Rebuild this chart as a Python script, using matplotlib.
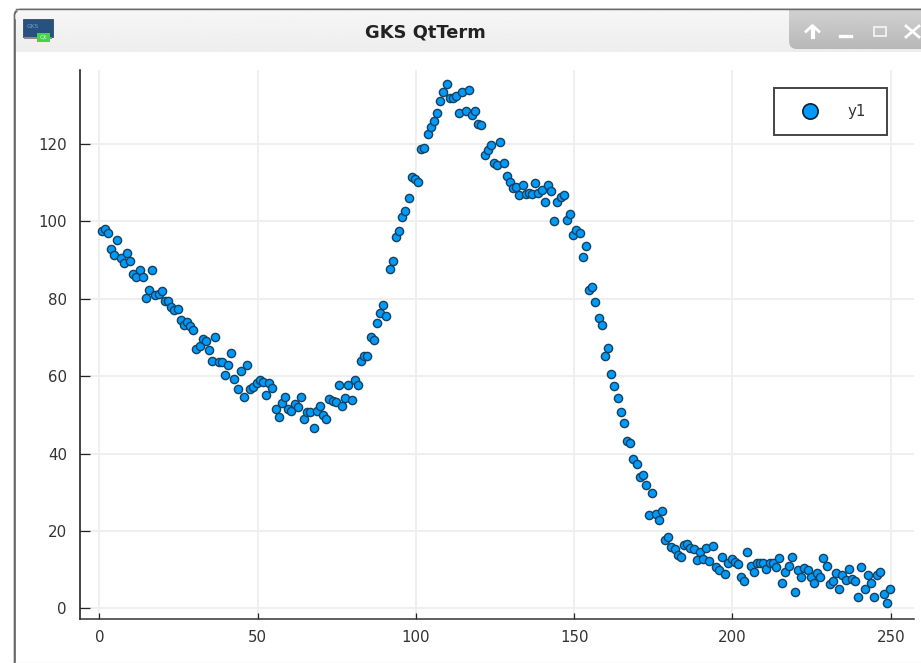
import numpy as np
import matplotlib
matplotlib.use("Agg")
import matplotlib.pyplot as plt
from matplotlib.patches import FancyBboxPatch, Rectangle
from matplotlib.lines import Line2D

W, H = 921, 663

y_part1 = [97.5, 98, 96.9, 92.8, 91.3, 95.1, 90.5, 89.3, 91.7, 89.7,
           86.5, 85.7, 87.4, 85.7, 80.2, 82.2, 87.3, 80.9, 81.2, 81.9,
           79.5, 79.5, 77.9, 77, 77.4, 74.4, 73.1, 74, 72.9, 72,
           67.1, 67.9, 69.6, 69.1, 66.8, 64, 70, 63.7, 63.6, 60.2,
           62.9, 66, 59.3, 56.6, 61.4, 54.6, 62.9, 56.6, 57.1, 58.3]
y_part2 = [58.9, 58.4, 55, 58.1, 57, 51.5, 49.5, 53, 54.6, 51.6,
           51, 52.8, 52, 54.6, 49, 50.6, 50.6, 46.7, 51, 52.2,
           49.9, 49, 54.2, 53.6, 53.4, 57.8, 52.2, 54.4, 57.8, 53.8,
           59, 57.7, 64, 65.2, 65.2, 70.1, 69.3, 73.6, 76.3, 78.4,
           75.6, 87.7, 89.8, 96, 97.6, 101.2, 102.7, 105.9, 111.4, 111]
y_part3 = [110.2, 118.6, 118.9, 122.5, 124.4, 126, 128, 131.1, 133.5, 135.5,
           131.8, 131.8, 132.3, 128, 133.5, 128.4, 133.9, 127.5, 128.4, 125.2,
           124.8, 117.1, 118.4, 119.7, 115, 114.5, 120.5, 115, 111.8, 110.2,
           108.7, 108.9, 106.7, 109.5, 107, 107.2, 107, 109.9, 107.4, 108.2,
           105, 109.5, 107.8, 100, 105, 106.3, 106.7, 100.3, 101.9, 96.4]
y_part4 = [97.7, 97.1, 90.9, 93.7, 82.2, 83, 79.2, 75.1, 73.1, 65.2,
           67.3, 60.6, 57.5, 54.3, 50.6, 48, 43.2, 42.8, 38.5, 37.3,
           34, 34.5, 31.8, 24, 29.8, 24.3, 22.7, 25.2, 17.6, 18.4,
           15.8, 15.2, 13.9, 13.3, 16.4, 16.5, 15.7, 15.2, 12.5, 14.5,
           12.8, 15.7, 12.2, 16.1, 10.6, 9.8, 13.3, 8.9, 11.6, 12.7]
y_part5 = [11.9, 11.4, 8.2, 7, 14.5, 10.9, 9.4, 11.6, 11.7, 11.8,
           10.1, 11.8, 11.8, 10.6, 12.9, 6.6, 9.4, 10.9, 13.3, 4.2,
           9.8, 8.2, 10.4, 9.8, 8.2, 6.6, 9, 8.2, 12.9, 10.9,
           6.2, 7, 9, 5, 8.6, 7.4, 10.2, 7.7, 7, 3,
           10.6, 5, 8.6, 6.6, 3, 8.6, 9.4, 3.8, 1.4, 5]
y_values = y_part1 + y_part2 + y_part3 + y_part4 + y_part5
x_values = np.arange(1, len(y_values) + 1) - 0.3

x_ticks = [0, 50, 100, 150, 200, 250]
y_ticks = [0, 20, 40, 60, 80, 100, 120]
series_label = "y1"
window_title = "GKS QtTerm"

BLUE = "#009AFA"
EDGE = "#15415f"
GRID = "#eeeeee"
TEXT = "#333333"

fig = plt.figure(figsize=(W / 100, H / 100), dpi=100, facecolor="white")

# window chrome, in pixel coordinates
ch = fig.add_axes([0, 0, 1, 1], zorder=0)
ch.set_xlim(0, W)
ch.set_ylim(H, 0)
ch.axis("off")


def gradient(patch, top, bottom, y0, y1):
    ch.add_patch(patch)
    g = np.linspace(top, bottom, 64)[:, None]
    im = ch.imshow(g, cmap="gray", vmin=0, vmax=1, extent=(0, W, y1, y0), aspect="auto",
                   zorder=patch.get_zorder() + 0.1)
    im.set_clip_path(patch)


ch.add_patch(FancyBboxPatch((14.5, 9.5), 1000, 800, boxstyle="round,pad=0,rounding_size=6",
                            fc="white", ec="#6a6a6a", lw=1.2, zorder=1))
bar_clip = Rectangle((15.5, 10.2), 1000, 41.8, fc="#eeeeee", ec="none", zorder=2)
gradient(bar_clip, 0.965, 0.93, 10.2, 52)
ch.plot([14.5, 14.5], [20, H], color="#6a6a6a", lw=1.2, zorder=3)
ch.plot([14.5, 17], [14, 11], color="#6a6a6a", lw=1.0, zorder=3)
ch.plot([16, W], [9.3, 9.3], color="#6a6a6a", lw=1.0, zorder=5)
ch.plot([15, W], [662.5, 662.5], color="#eeeeee", lw=1, zorder=3)
# buttons group
btn = FancyBboxPatch((789, -20), 200, 69, boxstyle="round,pad=0,rounding_size=8",
                     fc="none", ec="none", zorder=4)
gradient(btn, 0.82, 0.72, 9.7, 49)
ch.plot([806, 812.5, 819], [31.5, 25.5, 31.5], color="white", lw=2.0, zorder=6)
ch.plot([812.5, 812.5], [28, 37], color="white", lw=3.0, zorder=6)
ch.plot([840, 851], [36, 36], color="white", lw=2.4, zorder=6)
ch.add_patch(Rectangle((873.5, 26.5), 12, 9.5, fc="none", ec="#f0f0f0", lw=1.4, zorder=6))
ch.plot([906, 919], [26, 37], color="white", lw=2.0, zorder=6)
ch.plot([906, 919], [37, 26], color="white", lw=2.0, zorder=6)
# application icon
ch.add_patch(Rectangle((22.5, 19), 30, 18, fc="#27527f", ec="#3a4a5a", lw=0.6, zorder=6))
ch.add_patch(Rectangle((23.5, 37), 28, 2.2, fc="#8a8a8a", ec="none", zorder=6))
ch.add_patch(Rectangle((36.5, 32.5), 13, 9, fc="#46d24a", ec="none", zorder=7))
ch.text(33, 26.5, "GKS", ha="center", va="center", fontsize=4.2, color="#7d9fc4", zorder=8)
ch.text(43, 37, "Qt", ha="center", va="center", fontsize=4.6, color="#d8f8d8", zorder=8)
ch.text(425.5, 32.5, window_title, ha="center", va="center", fontsize=12.9,
        fontweight="bold", color="#222222", family="DejaVu Sans", zorder=8)
# legend box
ch.add_patch(Rectangle((774, 88), 112.5, 47, fc="white", ec="#444444", lw=1.4, zorder=8))
ch.set_xlim(0, W)
ch.set_ylim(H, 0)

# plot area
L, R, T, B = 79.5, 914, 70, 619
ax = fig.add_axes([L / W, 1 - B / H, (R - L) / W, (B - T) / H], zorder=1)
ax.patch.set_alpha(0)
ax.set_xlim((L - 99.3) / 3.166, (R - 99.3) / 3.166)
ax.set_ylim((608.3 - B) / 3.87, (608.3 - T) / 3.87)
ax.scatter(x_values, y_values, s=35, c=BLUE, edgecolors=EDGE, linewidths=1.0, zorder=3,
           clip_on=False)
ax.set_xticks(x_ticks)
ax.set_yticks(y_ticks)
ax.grid(True, color=GRID, lw=1.3, zorder=0)
ax.set_axisbelow(True)
for s in ("top", "right"):
    ax.spines[s].set_visible(False)
ax.spines["left"].set_linewidth(1.1)
ax.spines["left"].set_color("#111111")
ax.spines["bottom"].set_linewidth(1.1)
ax.spines["bottom"].set_color("#333333")
ax.tick_params(axis="y", direction="in", length=7.2, width=0.9, color="#222222",
               labelsize=10.8, labelcolor=TEXT, pad=9)
ax.tick_params(axis="x", direction="in", length=4.5, width=0.9, color="#222222",
               labelsize=10.8, labelcolor=TEXT, pad=8)

handle = Line2D([], [], ls="none", marker="o", ms=11, mfc=BLUE, mec="#10202e", mew=1.2)
leg = ax.legend([handle], [series_label], loc="upper left", fontsize=10.8, frameon=False,
                bbox_to_anchor=(774 / W, 1 - 88 / H), bbox_transform=fig.transFigure,
                borderaxespad=0, borderpad=1.05, handlelength=2.7, handletextpad=1.15,
                labelcolor="#333333")
leg.set_zorder(5)

fig.savefig("out.png", dpi=100)
